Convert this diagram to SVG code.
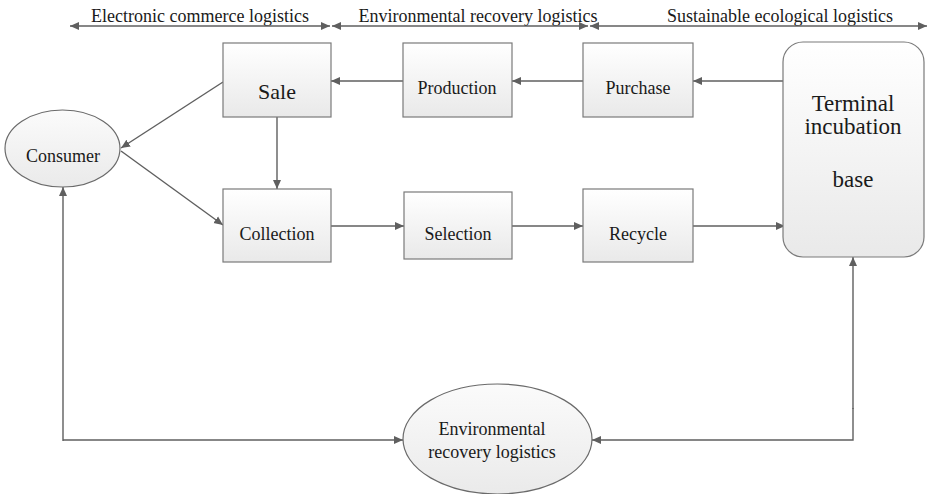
<svg xmlns="http://www.w3.org/2000/svg" width="929" height="494" viewBox="0 0 929 494">
<style>
text{fill:#1a1a1a;text-anchor:middle}
.t18{font-size:18px}
.t22{font-size:22px}
.t23{font-size:23px}
.box{fill:url(#g);stroke:#7a7a7a;stroke-width:1.2}
.ell{fill:url(#g2);stroke:#6a6a6a;stroke-width:1.2}
.c{fill:none;stroke:#5f5f5f;stroke-width:1.4}
.a{marker-end:url(#ah)}
.d{marker-start:url(#as);marker-end:url(#ah)}
</style>
<defs>
<linearGradient id="g" x1="0" y1="0" x2="0" y2="1"><stop offset="0" stop-color="#ffffff"/><stop offset="1" stop-color="#e9e9e9"/></linearGradient>
<linearGradient id="g2" x1="0" y1="0" x2="0" y2="1"><stop offset="0" stop-color="#fbfbfb"/><stop offset="1" stop-color="#eaeaea"/></linearGradient>
<marker id="ah" markerUnits="userSpaceOnUse" markerWidth="10" markerHeight="10" refX="9" refY="5" orient="auto"><path d="M0,1 L9,5 L0,9 Z" fill="#5f5f5f"/></marker>
<marker id="as" markerUnits="userSpaceOnUse" markerWidth="10" markerHeight="10" refX="0" refY="5" orient="auto"><path d="M9,1 L0,5 L9,9 Z" fill="#5f5f5f"/></marker>
</defs>
<g font-family="'Liberation Serif', Tinos, 'Times New Roman', Times, 'DejaVu Serif', serif">
<g id="labels">
<text class="t18" x="200" y="22">Electronic commerce logistics</text>
<text class="t18" x="478" y="22">Environmental recovery logistics</text>
<text class="t18" x="780" y="22">Sustainable ecological logistics</text>
</g>
<g id="connectors">
<line class="c d" x1="70" y1="26" x2="330" y2="26"/>
<line class="c d" x1="332" y1="26" x2="588" y2="26"/>
<line class="c d" x1="590" y1="26" x2="927" y2="26"/>
<line class="c a" x1="403" y1="81" x2="331" y2="81"/>
<line class="c a" x1="583" y1="81" x2="512" y2="81"/>
<line class="c a" x1="783" y1="81" x2="693" y2="81"/>
<line class="c a" x1="223" y1="82" x2="121" y2="148"/>
<line class="c a" x1="121" y1="151" x2="223" y2="225"/>
<line class="c a" x1="277" y1="117" x2="277" y2="189"/>
<line class="c a" x1="331" y1="226" x2="404" y2="226"/>
<line class="c a" x1="512" y1="226" x2="583" y2="226"/>
<line class="c a" x1="693" y1="226" x2="785" y2="226"/>
<polyline class="c a" points="63,441 63,187"/>
<line class="c a" x1="63" y1="440" x2="403" y2="440"/>
<polyline class="c a" points="853,408 853,440 592,440"/>
<line class="c a" x1="853" y1="409" x2="853" y2="257"/>
</g>
<g id="sale"><rect class="box" x="223" y="43" width="108" height="74"/><text class="t22" x="277" y="99">Sale</text></g>
<g id="production"><rect class="box" x="403" y="43" width="109" height="74"/><text class="t18" x="457" y="94">Production</text></g>
<g id="purchase"><rect class="box" x="583" y="43" width="110" height="74"/><text class="t18" x="638" y="94">Purchase</text></g>
<g id="collection"><rect class="box" x="223" y="189" width="108" height="73"/><text class="t18" x="277" y="240">Collection</text></g>
<g id="selection"><rect class="box" x="404" y="192" width="108" height="67"/><text class="t18" x="458" y="240">Selection</text></g>
<g id="recycle"><rect class="box" x="583" y="189" width="110" height="73"/><text class="t18" x="638" y="240">Recycle</text></g>
<g id="terminal"><rect class="box" x="783" y="42" width="141" height="215" rx="20" ry="20"/><text class="t23" x="853" y="111">Terminal</text><text class="t23" x="853" y="134">incubation</text><text class="t23" x="853" y="187">base</text></g>
<g id="consumer"><ellipse class="ell" cx="62.5" cy="148.5" rx="57.5" ry="38.5"/><text class="t18" x="63" y="162">Consumer</text></g>
<g id="env"><ellipse class="ell" cx="497.5" cy="439" rx="94.5" ry="55"/><text class="t18" x="492" y="435">Environmental</text><text class="t18" x="492" y="458">recovery logistics</text></g>
</g>
</svg>
